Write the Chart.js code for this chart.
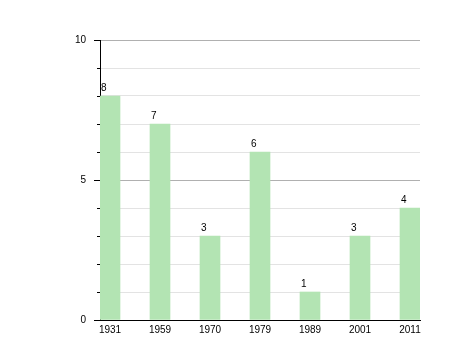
<!DOCTYPE html>
<html>
<head>
<meta charset="utf-8">
<script src="https://cdn.jsdelivr.net/npm/chart.js@4"></script>
<style>
html,body{margin:0;padding:0;background:#fff;}
#wrap{width:458px;height:360px;}
</style>
</head>
<body>
<div id="wrap"><canvas id="c" width="458" height="360"></canvas></div>
<script>
const categories = ['1931','1959','1970','1979','1989','2001','2011'];
const values = [8,7,3,6,1,3,4];
const yTicks = [0,5,10];

const FONT = {family:'"Liberation Sans", Arial, Helvetica, sans-serif', size:10};

const tickMarks = {
  id:'tickMarks',
  afterDraw(chart){
    const ys = chart.scales.y;
    const ctx = chart.ctx;
    ctx.save();
    ctx.strokeStyle = '#000';
    ctx.lineWidth = 1;
    for (let v = 0; v <= 10; v++) {
      const y = Math.round(ys.getPixelForValue(v)) + 0.5;
      const len = yTicks.includes(v) ? 6 : 3;
      ctx.beginPath();
      ctx.moveTo(ys.right - len, y);
      ctx.lineTo(ys.right, y);
      ctx.stroke();
    }
    ctx.restore();
  }
};

const valueLabels = {
  id:'valueLabels',
  afterDatasetsDraw(chart){
    const ctx = chart.ctx;
    const meta = chart.getDatasetMeta(0);
    ctx.save();
    ctx.font = FONT.size + 'px ' + FONT.family;
    ctx.fillStyle = '#000';
    ctx.textAlign = 'left';
    ctx.textBaseline = 'alphabetic';
    meta.data.forEach((bar, i) => {
      ctx.fillText(String(values[i]), bar.x - bar.width/2 + 1, bar.y - 5);
    });
    ctx.restore();
  }
};

new Chart(document.getElementById('c'), {
  type:'bar',
  data:{
    datasets:[{
      data: values.map((v,i)=>({x:i, y:v})),
      backgroundColor:'#b3e4b3',
      borderWidth:0,
      barThickness:20
    }]
  },
  options:{
    responsive:false,
    animation:false,
    layout:{padding:{left:0,right:38,top:40,bottom:0}},
    plugins:{legend:{display:false}, tooltip:{enabled:false}},
    scales:{
      x:{
        type:'linear',
        offset:false,
        min:-0.2, max:6.2,
        afterBuildTicks(scale){ scale.ticks = categories.map((_,i)=>({value:i})); },
        afterFit(scale){ scale.height = 40; },
        grid:{display:false, drawTicks:false, offset:false},
        border:{display:true, color:'#000', width:1},
        ticks:{
          font:FONT, color:'#000', padding:4, autoSkip:false, maxRotation:0,
          callback:(v)=> categories[v] !== undefined ? categories[v] : ''
        }
      },
      y:{
        min:0, max:10,
        afterFit(scale){ scale.width = 100; },
        afterBuildTicks(scale){ scale.ticks = Array.from({length:11},(_,i)=>({value:i})); },
        grid:{
          drawTicks:false,
          color:(c)=> c.tick.value === 0 ? 'rgba(0,0,0,0)' : (yTicks.includes(c.tick.value) ? '#b0b0b0' : '#e3e3e3')
        },
        border:{display:true, color:'#000', width:1},
        ticks:{
          font:FONT, color:'#000', padding:14, autoSkip:false,
          callback:(v)=> yTicks.includes(v) ? String(v) : ''
        }
      }
    }
  },
  plugins:[tickMarks, valueLabels]
});
</script>
</body>
</html>
